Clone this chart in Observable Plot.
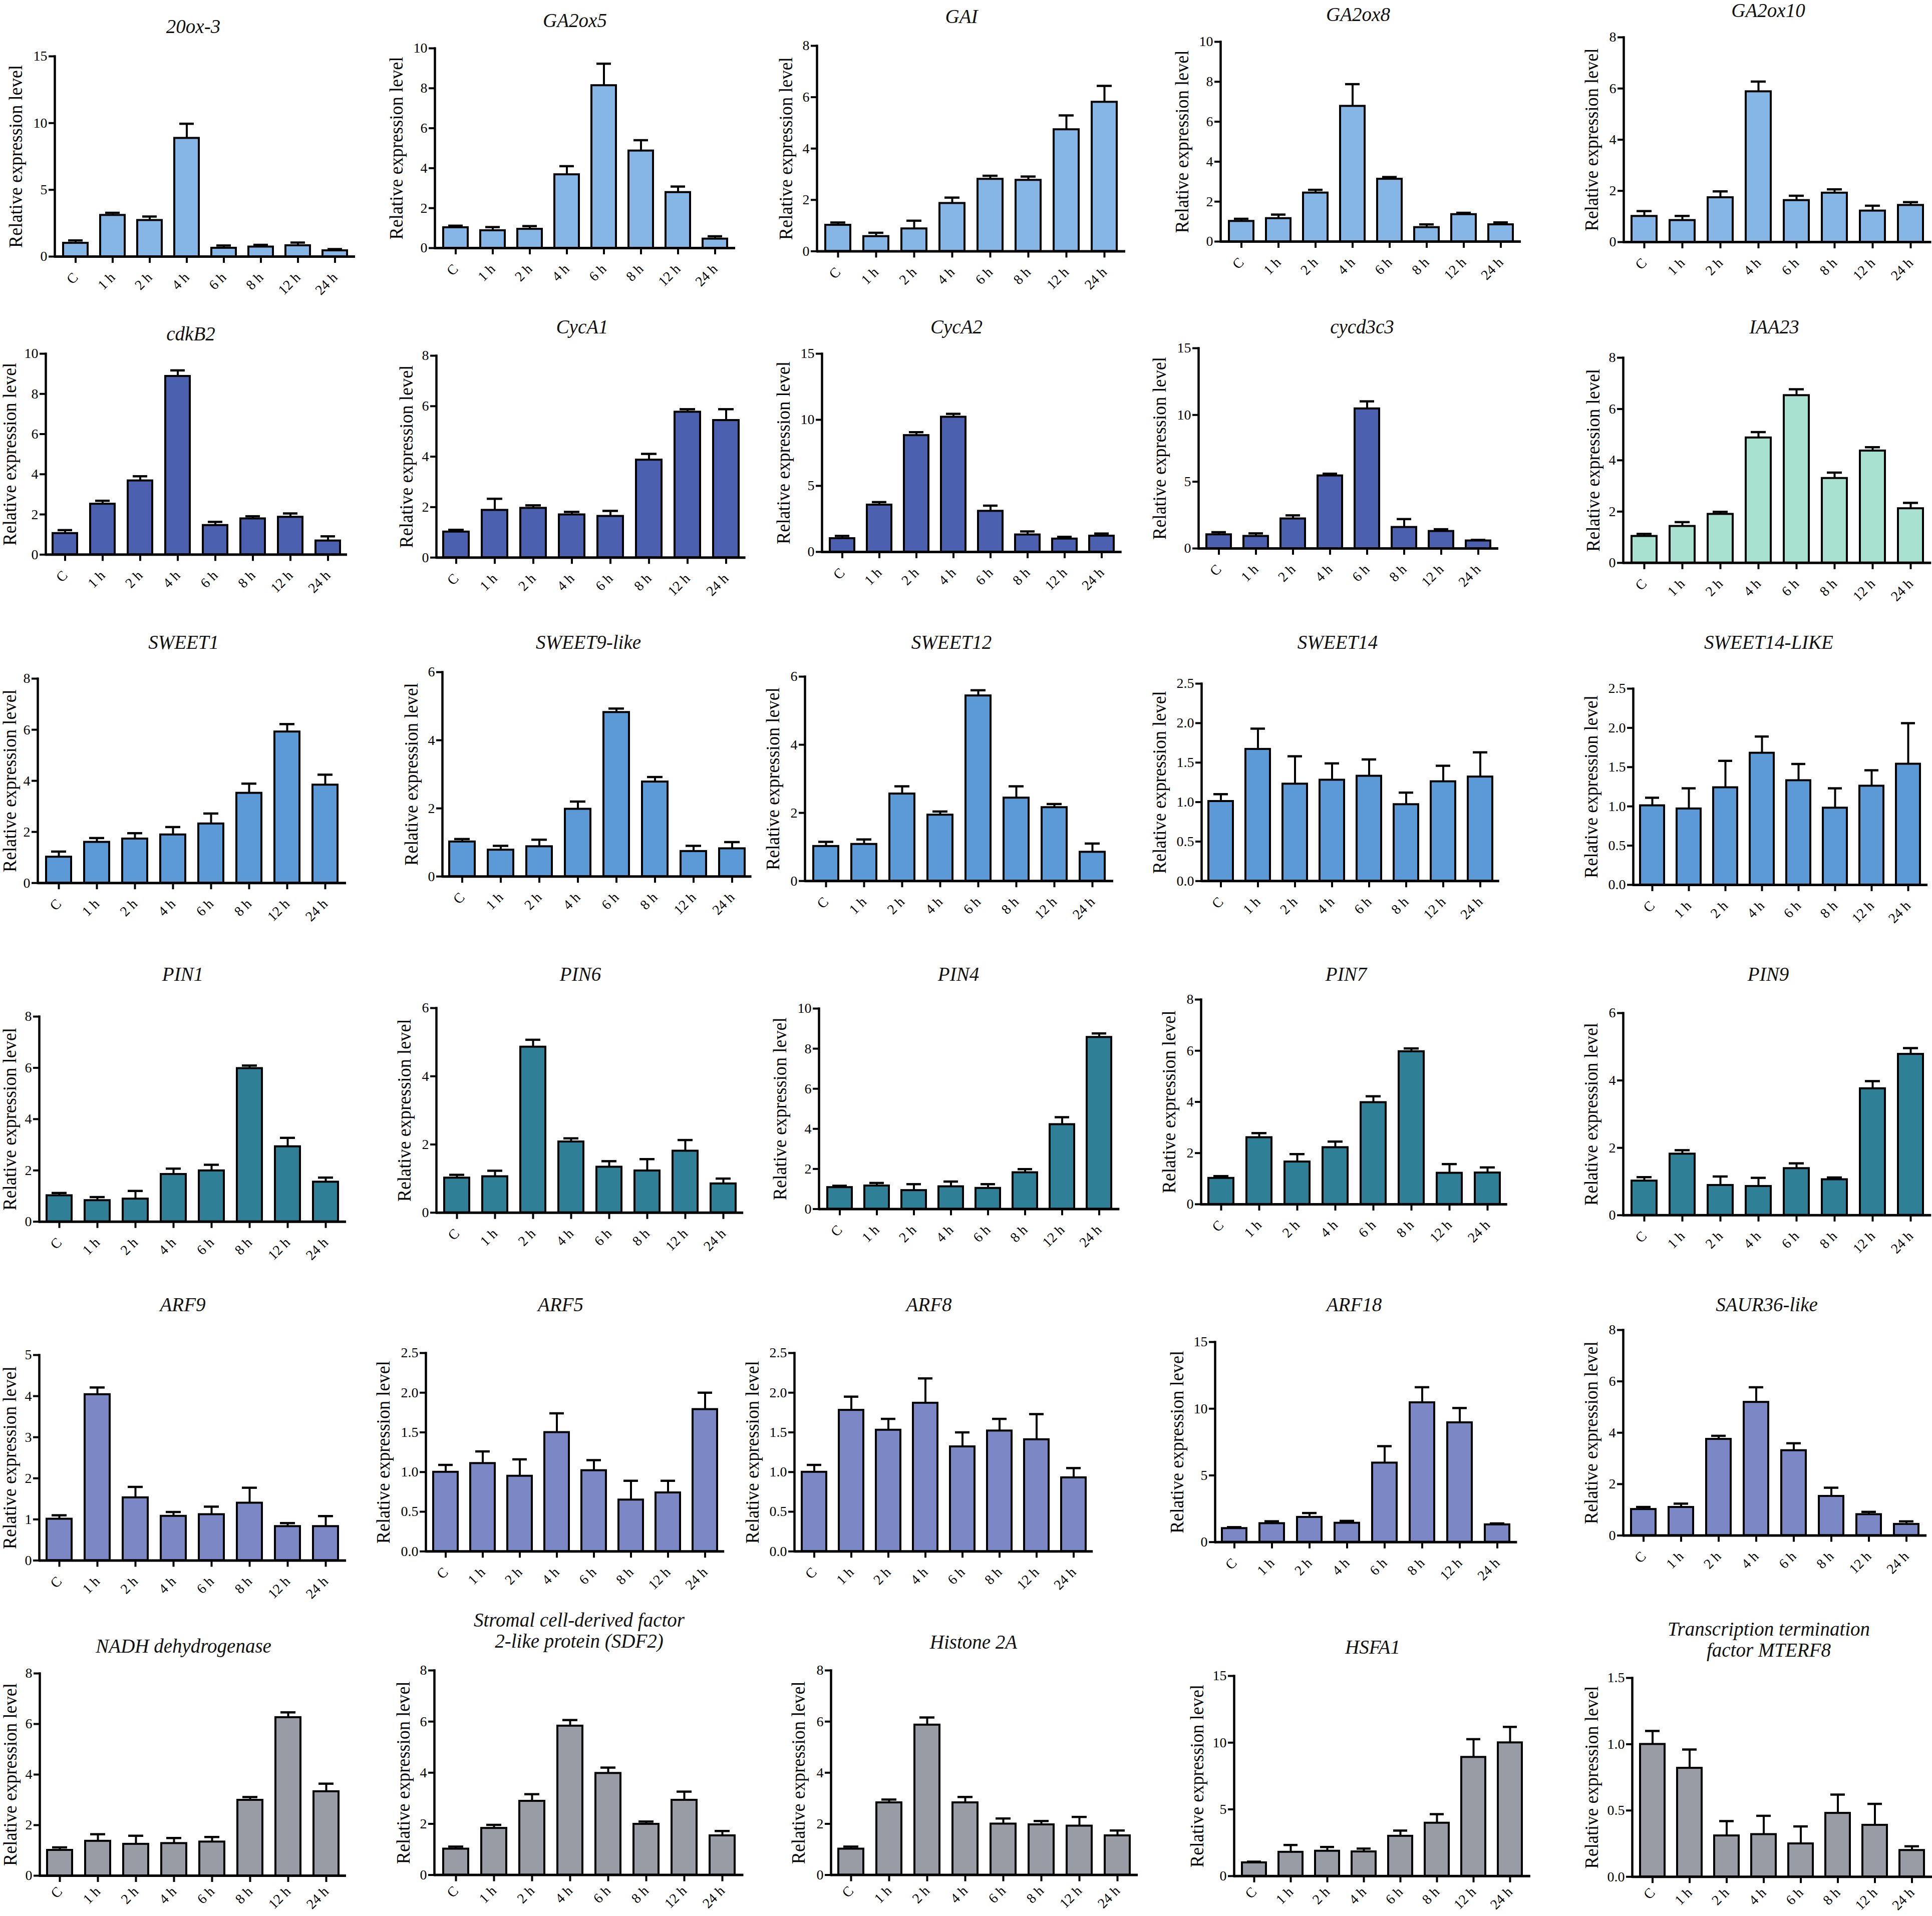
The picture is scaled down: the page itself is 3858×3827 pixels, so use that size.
<!DOCTYPE html>
<html><head><meta charset="utf-8">
<script src="https://cdn.jsdelivr.net/npm/d3@7"></script>
<script src="https://cdn.jsdelivr.net/npm/@observablehq/plot@0.6"></script>
<style>
body{margin:0;background:#fff;}
#fig{position:relative;width:3858px;height:3827px;background:#fff;overflow:hidden;}
.panel{position:absolute;}
.ttl{position:absolute;transform:translate(-50%,-50%);font-family:"Liberation Serif";font-style:italic;font-size:39px;white-space:pre;text-align:center;line-height:42px;color:#111;}
</style></head><body><div id="fig"></div>
<script>
// ---------- data ----------
const times = ["C", "1 h", "2 h", "4 h", "6 h", "8 h", "12 h", "24 h"];
const genes = ["20ox-3", "GA2ox5", "GAI", "GA2ox8", "GA2ox10",
  "cdkB2", "CycA1", "CycA2", "cycd3c3", "IAA23",
  "SWEET1", "SWEET9-like", "SWEET12", "SWEET14", "SWEET14-LIKE",
  "PIN1", "PIN6", "PIN4", "PIN7", "PIN9",
  "ARF9", "ARF5", "ARF8", "ARF18", "SAUR36-like",
  "NADH dehydrogenase", "Stromal cell-derived factor\n2-like protein (SDF2)", "Histone 2A", "HSFA1", "Transcription termination\nfactor MTERF8"];
const yMax = [15, 10, 8, 10, 8, 10, 8, 15, 15, 8, 8, 6, 6, 2.5, 2.5, 8, 6, 10, 8, 6, 5, 2.5, 2.5, 15, 8, 8, 8, 8, 15, 1.5];
const yLabel = "Relative expression level";
const means = [
  [1.01, 3.10, 2.72, 8.87, 0.64, 0.73, 0.83, 0.45],
  [1.03, 0.88, 0.95, 3.68, 8.14, 4.87, 2.79, 0.46],
  [1.02, 0.58, 0.88, 1.87, 2.81, 2.77, 4.74, 5.81],
  [1.02, 1.16, 2.44, 6.78, 3.13, 0.71, 1.36, 0.85],
  [1.01, 0.85, 1.74, 5.88, 1.63, 1.92, 1.22, 1.44],
  [1.06, 2.52, 3.68, 8.88, 1.46, 1.79, 1.87, 0.69],
  [1.02, 1.88, 1.96, 1.70, 1.64, 3.87, 5.77, 5.44],
  [1.02, 3.56, 8.82, 10.21, 3.09, 1.30, 0.99, 1.21],
  [1.04, 0.92, 2.23, 5.45, 10.47, 1.59, 1.29, 0.58],
  [1.04, 1.43, 1.90, 4.88, 6.53, 3.30, 4.37, 2.12],
  [1.02, 1.60, 1.73, 1.89, 2.32, 3.52, 5.92, 3.84],
  [1.02, 0.78, 0.88, 1.98, 4.82, 2.78, 0.74, 0.82],
  [1.02, 1.08, 2.56, 1.94, 5.44, 2.44, 2.16, 0.85],
  [1.01, 1.67, 1.23, 1.28, 1.33, 0.97, 1.26, 1.32],
  [1.01, 0.97, 1.24, 1.68, 1.33, 0.98, 1.26, 1.54],
  [1.02, 0.83, 0.89, 1.85, 1.99, 5.98, 2.93, 1.55],
  [1.02, 1.06, 4.86, 2.08, 1.34, 1.23, 1.81, 0.85],
  [1.08, 1.16, 0.93, 1.12, 1.04, 1.82, 4.22, 8.57],
  [1.02, 2.61, 1.66, 2.22, 3.98, 5.97, 1.22, 1.23],
  [1.02, 1.82, 0.89, 0.86, 1.39, 1.06, 3.76, 4.78],
  [1.01, 4.04, 1.53, 1.08, 1.12, 1.40, 0.83, 0.83],
  [1.00, 1.11, 0.95, 1.50, 1.02, 0.65, 0.74, 1.79],
  [1.00, 1.78, 1.53, 1.87, 1.32, 1.52, 1.41, 0.93],
  [1.03, 1.40, 1.87, 1.43, 5.94, 10.46, 8.96, 1.31],
  [1.02, 1.10, 3.75, 5.19, 3.31, 1.53, 0.82, 0.44],
  [1.01, 1.37, 1.25, 1.28, 1.34, 2.99, 6.26, 3.33],
  [1.02, 1.83, 2.89, 5.83, 3.98, 1.99, 2.93, 1.54],
  [1.02, 2.83, 5.87, 2.83, 2.00, 1.97, 1.92, 1.54],
  [1.01, 1.80, 1.88, 1.83, 3.00, 3.98, 8.91, 10.00],
  [1.00, 0.82, 0.31, 0.32, 0.25, 0.48, 0.39, 0.20]
];
const errors = [
  [0.20, 0.18, 0.28, 1.08, 0.19, 0.15, 0.22, 0.11],
  [0.09, 0.17, 0.15, 0.42, 1.09, 0.53, 0.29, 0.13],
  [0.10, 0.14, 0.31, 0.22, 0.13, 0.14, 0.55, 0.63],
  [0.12, 0.19, 0.15, 1.10, 0.10, 0.15, 0.08, 0.11],
  [0.20, 0.17, 0.24, 0.39, 0.18, 0.14, 0.20, 0.12],
  [0.16, 0.16, 0.22, 0.29, 0.17, 0.12, 0.18, 0.22],
  [0.08, 0.45, 0.11, 0.11, 0.21, 0.24, 0.11, 0.44],
  [0.19, 0.21, 0.24, 0.24, 0.41, 0.25, 0.15, 0.18],
  [0.18, 0.21, 0.25, 0.15, 0.55, 0.61, 0.15, 0.06],
  [0.09, 0.16, 0.09, 0.22, 0.24, 0.22, 0.14, 0.22],
  [0.21, 0.16, 0.22, 0.30, 0.40, 0.37, 0.30, 0.40],
  [0.08, 0.12, 0.20, 0.22, 0.11, 0.14, 0.16, 0.19],
  [0.13, 0.14, 0.22, 0.10, 0.16, 0.34, 0.10, 0.25],
  [0.09, 0.26, 0.35, 0.21, 0.21, 0.15, 0.20, 0.31],
  [0.10, 0.26, 0.34, 0.21, 0.21, 0.25, 0.20, 0.52],
  [0.10, 0.13, 0.31, 0.22, 0.23, 0.11, 0.34, 0.17],
  [0.09, 0.17, 0.21, 0.10, 0.17, 0.34, 0.32, 0.15],
  [0.08, 0.14, 0.31, 0.25, 0.20, 0.17, 0.36, 0.19],
  [0.08, 0.17, 0.30, 0.23, 0.24, 0.12, 0.35, 0.21],
  [0.11, 0.11, 0.26, 0.25, 0.15, 0.06, 0.22, 0.18],
  [0.09, 0.17, 0.26, 0.10, 0.19, 0.37, 0.08, 0.25],
  [0.09, 0.15, 0.21, 0.24, 0.13, 0.24, 0.15, 0.21],
  [0.09, 0.17, 0.14, 0.31, 0.18, 0.15, 0.32, 0.12],
  [0.09, 0.16, 0.31, 0.16, 1.25, 1.15, 1.09, 0.09],
  [0.09, 0.14, 0.13, 0.58, 0.28, 0.33, 0.10, 0.11],
  [0.11, 0.27, 0.33, 0.21, 0.19, 0.12, 0.20, 0.31],
  [0.09, 0.13, 0.27, 0.23, 0.22, 0.10, 0.33, 0.18],
  [0.09, 0.12, 0.29, 0.22, 0.21, 0.14, 0.35, 0.20],
  [0.07, 0.53, 0.30, 0.23, 0.41, 0.66, 1.35, 1.18],
  [0.10, 0.14, 0.11, 0.14, 0.13, 0.14, 0.16, 0.03]
];

// ---------- styles & layout ----------
const palette = {lightblue: "#86b6e6", darkblue: "#4b60ae", mint: "#a9e1d1", blue: "#5b9ad6", teal: "#2f7f96", violet: "#7c87c6", gray: "#9a9ca5"};
const panelColor = ["lightblue","lightblue","lightblue","lightblue","lightblue",
  "darkblue","darkblue","darkblue","darkblue","mint",
  "blue","blue","blue","blue","blue",
  "teal","teal","teal","teal","teal",
  "violet","violet","violet","violet","violet",
  "gray","gray","gray","gray","gray"];
// [axis x, top y, zero y, right x, title x, title y, y-label offset] in page pixels
const layout = [
  [109,112,512,709,386,53,77],[868,96,495,1468,1148,41,76],[1631,90.6,501,2247,1920,33,61],[2437,83,482,3037,2712,29,76],[3241.5,74,483,3856,3531,21,63],
  [91,705.7,1107,693,381,667,71],[871,709.8,1113,1488.6,1162.6,653,59],[1641.3,705.7,1101.6,2240,1910,653,76],[2393,695,1095,2992,2720,653,77],[3240.7,713.9,1123.7,3856,3543,653,59],
  [75.2,1354.7,1762.9,691.2,366.6,1283,55],[883.4,1342.4,1750.6,1501,1175,1283,61],[1607,1350.6,1758.8,2223,1900,1283,63],[2399.3,1364.5,1758.8,2994,2671,1283,83],[3261,1375.1,1767,3849,3532,1283,83],
  [77.9,2030,2439.7,691,365,1946,58],[871.4,2012.8,2421.5,1484.6,1159,1946,63],[1635,2013.6,2414,2235.4,1914,1946,77],[2398.3,1996,2404.9,3010,2688,1946,63],[3240.7,2022.7,2426.5,3856,3531,1946,63],
  [77.9,2705.8,3116.2,691,365,2606,58],[850.4,2701.7,3098,1446.6,1119.6,2606,84],[1586,2701.7,3098,2182.2,1855,2606,83],[2425.8,2680,3079.7,3029.2,2704,2606,75],[3241.4,2656,3066.5,3847.5,3528,2606,63],
  [79,3342,3746,691,366.6,3288,58],[867.4,3336,3744.6,1484.9,1156.5,3257,61],[1658.8,3336,3744.6,2271.9,1944,3280,64],[2463.5,3346.8,3746.6,3055.4,2741,3290,73],[3258.5,3350.8,3748,3858,3532,3275,80]
];
const ML = 120, MT = 24, MR = 10, MB = 140;

const fig = document.getElementById("fig");
genes.forEach((gene, i) => {
  const [ax, yt, yz, xr, tx, ty, lo] = layout[i];
  const data = times.map((t, j) => ({t, m: means[i][j], e: means[i][j] + errors[i][j]}));
  const max = yMax[i];
  const step = max === 15 ? 5 : max === 5 ? 1 : max <= 2.5 ? 0.5 : 2;
  const ticks = d3.range(0, max + step / 2, step);
  const fmt = step < 1 ? d3.format(".1f") : d3.format("d");
  const width = xr - ax + ML + MR, height = yz - yt + MT + MB;
  const color = palette[panelColor[i]];
  const xPad = i >= 25 ? 14 : 24;
  const svg = Plot.plot({
    width, height, marginLeft: ML, marginRight: MR, marginTop: MT, marginBottom: MB,
    style: {background: "transparent", overflow: "visible", fontFamily: "Liberation Serif", fontSize: "28px", color: "#000", maxWidth: "none"},
    x: {domain: times, paddingInner: 0.34, paddingOuter: 0.18, align: 0.5},
    y: {domain: [0, max], nice: false},
    marks: [
      Plot.barY(data, {x: "t", y: "m", fill: color, stroke: "#000", strokeWidth: 4}),
      Plot.ruleX(data, {x: "t", y1: "m", y2: "e", stroke: "#000", strokeWidth: 4}),
      Plot.tickY(data, {x: "t", y: "e", stroke: "#000", strokeWidth: 4.5, insetLeft: 10, insetRight: 10}),
      Plot.ruleY([0], {stroke: "#000", strokeWidth: 5}),
      Plot.frame({anchor: "left", stroke: "#000", strokeWidth: 4.5}),
      Plot.axisY({ticks, tickFormat: fmt, tickSize: 12, tickPadding: 3, strokeWidth: 4, label: null}),
      Plot.axisX({tickRotate: -45, tickSize: 13, tickPadding: xPad, strokeWidth: 4, label: null}),
      Plot.text([yLabel], {frameAnchor: "left", textAnchor: "middle", rotate: -90, dx: -lo, fontFamily: "Liberation Serif", fontSize: 37, fill: "#000"})
    ]
  });
  d3.select(svg).selectAll("text").filter(function () { return this.textContent === yLabel; })
    .attr("textLength", 365).attr("lengthAdjust", "spacingAndGlyphs");
  const div = document.createElement("div");
  div.className = "panel";
  div.style.left = (ax - ML) + "px";
  div.style.top = (yt - MT) + "px";
  div.appendChild(svg);
  fig.appendChild(div);
  const t = document.createElement("div");
  t.className = "ttl";
  t.style.left = tx + "px";
  t.style.top = ty + "px";
  t.textContent = gene;
  fig.appendChild(t);
});
</script></body></html>
